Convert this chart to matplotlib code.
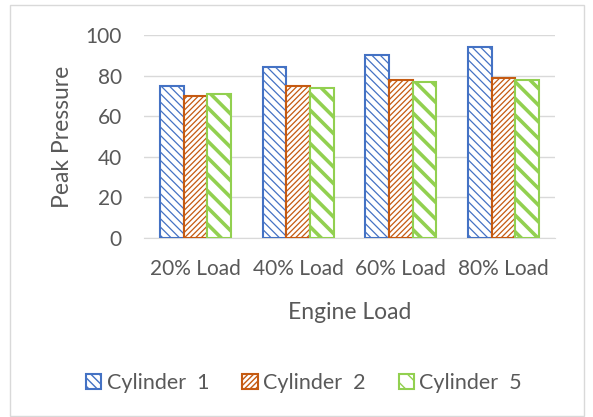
import matplotlib
matplotlib.use("Agg")
import matplotlib.pyplot as plt
import numpy as np
from matplotlib.patches import Rectangle

categories = ["20% Load", "40% Load", "60% Load", "80% Load"]
series_names = ["Cylinder  1", "Cylinder  2", "Cylinder  5"]
cyl1 = [75, 84, 90, 94]
cyl2 = [70, 75, 78, 79]
cyl5 = [71, 74, 77, 78]
yticks = [0, 20, 40, 60, 80, 100]

colors = ["#4472C4", "#C55A11", "#92D050"]
hatches = ["\\\\\\\\", "//////", "\\\\"]
hlw = [0.9, 0.9, 2.6]

plt.rcParams['font.family'] = ['Lato', 'DejaVu Sans']
fig = plt.figure(figsize=(5.93, 4.17), dpi=100)
fig.patches.append(Rectangle((10/593, 1/417), 574/593, 411/417, transform=fig.transFigure,
                             fill=False, edgecolor="#D9D9D9", linewidth=1.0))
ax = fig.add_axes([144/593, 1-238/417, 411/593, 203/417])

x = np.arange(len(categories))
w = 0.23
data = [cyl1, cyl2, cyl5]
for i, (vals, c, h, lw) in enumerate(zip(data, colors, hatches, hlw)):
    with plt.rc_context({'hatch.linewidth': lw}):
        ax.bar(x + (i - 1) * w, vals, width=w, facecolor="white", edgecolor=c,
               hatch=h, linewidth=1.5, label=series_names[i], zorder=3)

ax.set_xlim(-0.5, len(categories) - 0.5)
ax.set_ylim(0, 100)
ax.set_yticks(yticks)
ax.set_xticks(x)
ax.set_xticklabels(categories)
ax.yaxis.grid(True, color="#D9D9D9", linewidth=1.0, zorder=0)
ax.set_axisbelow(True)
for s in ["top", "right", "left"]:
    ax.spines[s].set_visible(False)
ax.spines["bottom"].set_color("#D9D9D9")
ax.tick_params(axis="both", length=0, labelsize=15, colors="#595959")
ax.tick_params(axis="y", pad=16)
ax.tick_params(axis="x", pad=15)
ax.set_xlabel("Engine Load", fontsize=16.5, color="#595959", labelpad=17)
ax.set_ylabel("Peak Pressure", fontsize=16.5, color="#595959", labelpad=9)

leg = fig.legend(loc="center", bbox_to_anchor=(304/593, 1-383/417), ncol=3, frameon=False,
                 fontsize=15.5, labelcolor="#595959", handlelength=0.7, handleheight=0.7,
                 columnspacing=1.55, handletextpad=0.25)

fig.savefig("out.png", dpi=100)
